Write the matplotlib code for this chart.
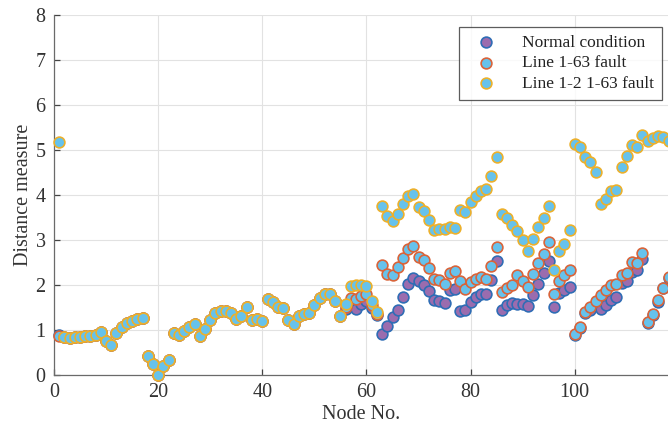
import numpy as np
import matplotlib
matplotlib.use("Agg")
import matplotlib.pyplot as plt

plt.rcParams['font.family'] = ['Liberation Serif', 'DejaVu Serif']

# node numbers 1..118
nodes = np.arange(1, 119)

# nodes 2-55: the three series lie on top of each other here
common_2_55 = [0.84, 0.83, 0.84, 0.84, 0.86, 0.87, 0.88, 0.96, 0.75, 0.66,
               0.94, 1.06, 1.15, 1.20, 1.24, 1.27, 0.43, 0.25, 0.01, 0.21,
               0.34, 0.94, 0.89, 0.98, 1.07, 1.14, 0.86, 1.03, 1.22, 1.37,
               1.43, 1.43, 1.37, 1.24, 1.32, 1.52, 1.23, 1.25, 1.20, 1.70,
               1.62, 1.52, 1.48, 1.22, 1.14, 1.31, 1.35, 1.37, 1.55, 1.71,
               1.79, 1.79, 1.65, 1.32]

# node 1
normal_n1 = [0.88]
f163_n1 = [0.86]
f12_n1 = [5.18]

# nodes 56-62
normal_56_62 = [1.47, 1.56, 1.47, 1.58, 1.65, 1.50, 1.33]
f163_56_62 = [1.52, 1.72, 1.68, 1.76, 1.80, 1.56, 1.36]
f12_56_62 = [1.57, 1.97, 2.00, 2.00, 1.98, 1.65, 1.41]

# nodes 63-118
normal_63_118 = [0.92, 1.08, 1.28, 1.44, 1.74, 2.02, 2.15,
                 2.09, 2.00, 1.86, 1.67, 1.65, 1.60, 1.88, 1.91,
                 1.43, 1.44, 1.63, 1.74, 1.81, 1.81, 2.11, 2.54,
                 1.44, 1.55, 1.60, 1.57, 1.57, 1.53, 1.77, 2.03, 2.26, 2.54,
                 1.52, 1.83, 1.89, 1.96,
                 0.90, 1.04, 1.38, 1.45, 1.55, 1.47, 1.56, 1.66, 1.73, 2.05,
                 2.10, 2.28, 2.33, 2.57, 1.15, 1.33, 1.62, 1.94, 2.15]
f163_63_118 = [2.45, 2.24, 2.23, 2.40, 2.61, 2.81, 2.86,
               2.62, 2.55, 2.37, 2.14, 2.11, 2.02, 2.27, 2.31,
               2.08, 1.92, 2.06, 2.14, 2.18, 2.14, 2.43, 2.85,
               1.84, 1.94, 2.00, 2.22, 2.09, 1.96, 2.24, 2.48, 2.70, 2.96,
               1.81, 2.09, 2.22, 2.33,
               0.92, 1.06, 1.41, 1.51, 1.64, 1.78, 1.88, 2.00, 2.02, 2.22,
               2.26, 2.51, 2.48, 2.72, 1.18, 1.36, 1.66, 1.93, 2.18]
f12_63_118 = [3.76, 3.53, 3.42, 3.58, 3.79, 3.97, 4.03,
              3.73, 3.65, 3.44, 3.22, 3.25, 3.24, 3.29, 3.26,
              3.66, 3.62, 3.84, 3.97, 4.09, 4.13, 4.43, 4.84,
              3.58, 3.48, 3.33, 3.20, 2.99, 2.76, 3.02, 3.29, 3.50, 3.75,
              2.34, 2.76, 2.92, 3.22,
              5.14, 5.07, 4.85, 4.74, 4.52, 3.81, 3.91, 4.10, 4.12, 4.63,
              4.87, 5.11, 5.06, 5.33, 5.20, 5.26, 5.31, 5.29, 5.19]

normal = np.array(normal_n1 + common_2_55 + normal_56_62 + normal_63_118)
fault_163 = np.array(f163_n1 + common_2_55 + f163_56_62 + f163_63_118)
fault_12_163 = np.array(f12_n1 + common_2_55 + f12_56_62 + f12_63_118)

labels = ["Normal condition", "Line 1-63 fault", "Line 1-2 1-63 fault"]

fig = plt.figure(figsize=(6.68, 4.33), dpi=100)
ax = fig.add_axes([54 / 668, 1 - 375 / 433, 1 - 54 / 668, 360 / 433])

ms = 60
ax.scatter(nodes, normal, s=ms, c="#9b6cae", edgecolors="#2f6db5",
           linewidths=1.2, label=labels[0], zorder=3, clip_on=False)
ax.scatter(nodes, fault_163, s=ms, c="#66c2ec", edgecolors="#d9643a",
           linewidths=1.2, label=labels[1], zorder=4, clip_on=False)
ax.scatter(nodes, fault_12_163, s=ms, c="#66c2ec", edgecolors="#ecb02c",
           linewidths=1.2, label=labels[2], zorder=5, clip_on=False)

ax.set_xlim(0, 117.9)
ax.set_ylim(0, 8)
ax.set_xticks([0, 20, 40, 60, 80, 100])
ax.set_yticks(range(0, 9))
ax.grid(True, color="#e2e2e2", linewidth=0.8)
ax.set_axisbelow(True)

for side in ["top", "right"]:
    ax.spines[side].set_visible(False)
for side in ["left", "bottom"]:
    ax.spines[side].set_color("#6a6a6a")
    ax.spines[side].set_linewidth(0.9)

ax.tick_params(direction="in", length=4, width=0.9, colors="#444444",
               labelsize=14.5, labelcolor="#333333", pad=6)
ax.set_xlabel("Node No.", fontsize=14.5, color="#333333", labelpad=2)
ax.set_ylabel("Distance measure", fontsize=14.5, color="#333333", labelpad=2)

leg = ax.legend(loc="upper right", bbox_to_anchor=(0.99, 0.967),
                borderaxespad=0, fontsize=12.5, frameon=True, fancybox=False,
                scatterpoints=1, handletextpad=1.0, labelspacing=0.25,
                borderpad=0.45, handlelength=2.2)
leg.get_frame().set_edgecolor("#333333")
leg.get_frame().set_linewidth(0.9)
for t in leg.get_texts():
    t.set_color("#222222")

fig.savefig("out.png", dpi=100)
